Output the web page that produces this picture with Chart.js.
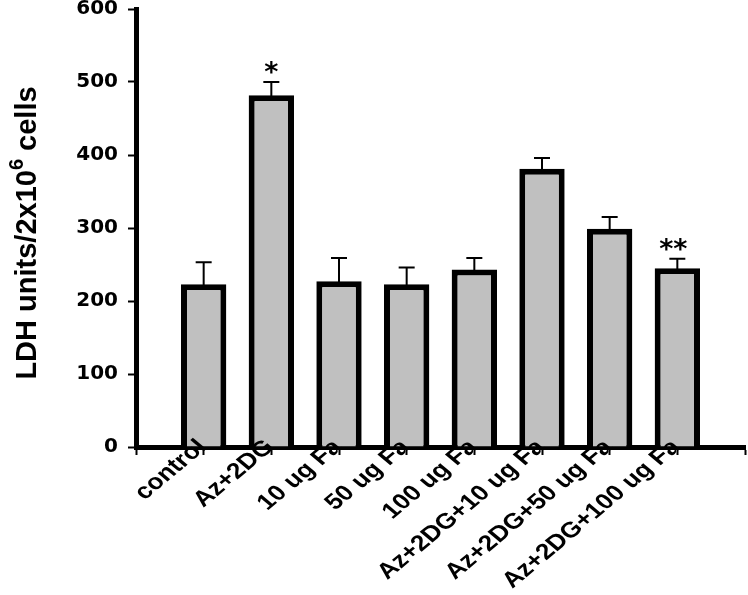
<!DOCTYPE html>
<html>
<head>
<meta charset="utf-8">
<script src="https://cdn.jsdelivr.net/npm/chart.js@4.4.1/dist/chart.umd.min.js"></script>
<style>
  html, body { margin: 0; padding: 0; background: #fff; }
</style>
</head>
<body>
<canvas id="ldh-chart" width="748" height="595"></canvas>
<script>
/* global Chart */
(function (root) {
    'use strict';

    // data
    var categories = ['control', 'Az+2DG', '10 ug Fa', '50 ug Fa', '100 ug Fa', 'Az+2DG+10 ug Fa', 'Az+2DG+50 ug Fa', 'Az+2DG+100 ug Fa'];
    var ldhMeans = [223, 482, 227, 223, 243, 381, 299, 245];
    var ldhErrors = [30, 18, 32, 23, 16, 15, 16, 13];
    var sigMarks = ['', '*', '', '', '', '', '', '**'];
    var yMin = 0, yMax = 600, yStep = 100;
    var yTitleParts = ['LDH units/2x10', '6', ' cells'];

    var tickFont = { family: '"DejaVu Sans", sans-serif', size: 20, weight: 'bold' };

    // bars sit on the tick marks, so pad the category list with empty slots
    var labels = [''].concat(categories, ['']);
    var values = [null].concat(ldhMeans, [null]);

    var errorBarsPlugin = {
        id: 'errorBars',
        afterDatasetsDraw: function (chart) {
            var ctx = chart.ctx;
            var yScale = chart.scales.y;
            var meta = chart.getDatasetMeta(0);
            ctx.save();
            ctx.strokeStyle = '#000';
            ctx.lineWidth = 2;
            categories.forEach(function (c, i) {
                var bar = meta.data[i + 1];
                if (!bar) { return; }
                var top = yScale.getPixelForValue(ldhMeans[i] + ldhErrors[i]);
                ctx.beginPath();
                ctx.moveTo(bar.x, bar.y + 3);
                ctx.lineTo(bar.x, top);
                ctx.moveTo(bar.x - 8, top);
                ctx.lineTo(bar.x + 8, top);
                ctx.stroke();
                if (sigMarks[i]) {
                    ctx.fillStyle = '#000';
                    ctx.font = 'bold 27px "DejaVu Sans", sans-serif';
                    ctx.textAlign = 'center';
                    ctx.textBaseline = 'alphabetic';
                    ctx.fillText(sigMarks[i], bar.x - (sigMarks[i].length > 1 ? 4 : 0), top - 1);
                }
            });
            ctx.restore();
        }
    };

    // rotated category labels, drawn on top so they can overlap the axis like the original
    // (the source image is a bit stretched sideways, hence the x scale)
    var categoryLabelsPlugin = {
        id: 'categoryLabels',
        afterDraw: function (chart) {
            var ctx = chart.ctx;
            var xScale = chart.scales.x;
            ctx.save();
            ctx.fillStyle = '#000';
            ctx.font = 'bold 22px "Liberation Sans", Arial, sans-serif';
            ctx.textAlign = 'right';
            ctx.textBaseline = 'alphabetic';
            chart.data.labels.forEach(function (lab, i) {
                if (!lab) { return; }
                var x = xScale.getPixelForTick(i);
                ctx.save();
                ctx.translate(x + 4, xScale.top + 1);
                ctx.scale(1.2, 1);
                ctx.rotate(-Math.PI / 4);
                ctx.fillText(lab, 0, 0);
                ctx.restore();
            });
            ctx.restore();
        }
    };

    var yTitlePlugin = {
        id: 'yTitle',
        afterDraw: function (chart) {
            var ctx = chart.ctx;
            var big = 'bold 29px "Liberation Sans", Arial, sans-serif';
            var small = 'bold 20px "Liberation Sans", Arial, sans-serif';
            ctx.save();
            ctx.font = big;
            var w0 = ctx.measureText(yTitleParts[0]).width;
            var w2 = ctx.measureText(yTitleParts[2]).width;
            ctx.font = small;
            var w1 = ctx.measureText(yTitleParts[1]).width;
            var total = w0 + w1 + w2;
            ctx.translate(36, 233);
            ctx.rotate(-Math.PI / 2);
            ctx.fillStyle = '#000';
            ctx.textAlign = 'left';
            ctx.textBaseline = 'alphabetic';
            var x = -total / 2;
            ctx.font = big;
            ctx.fillText(yTitleParts[0], x, 0);
            x += w0;
            ctx.font = small;
            ctx.fillText(yTitleParts[1], x, -13);
            x += w1;
            ctx.font = big;
            ctx.fillText(yTitleParts[2], x, 0);
            ctx.restore();
        }
    };

    function initLdhChart() {
        var ctx = document.getElementById('ldh-chart');
        if (!ctx || typeof Chart === 'undefined') { return null; }
        return new Chart(ctx, {
            type: 'bar',
            data: {
                labels: labels,
                datasets: [{
                    data: values,
                    backgroundColor: '#c0c0c0',
                    borderColor: '#000',
                    borderWidth: 6,
                    categoryPercentage: 1,
                    barPercentage: 0.67
                }]
            },
            options: {
                responsive: false,
                animation: false,
                layout: { padding: { top: 9, right: 3, left: 0, bottom: 0 } },
                plugins: { legend: { display: false }, tooltip: { enabled: false } },
                scales: {
                    x: {
                        type: 'category',
                        offset: false,
                        z: 1,
                        grid: { offset: false, drawOnChartArea: false, drawTicks: true, tickLength: 8, tickWidth: 2, tickColor: '#000' },
                        border: { display: true, color: '#000', width: 5 },
                        ticks: { display: false, autoSkip: false },
                        afterFit: function (scale) {
                            scale.height = 148;
                            scale.paddingLeft = 0;
                            scale.paddingRight = 0;
                        }
                    },
                    y: {
                        min: yMin,
                        max: yMax,
                        grid: { drawOnChartArea: false, drawTicks: true, tickLength: 8, tickWidth: 2, tickColor: '#000' },
                        border: { display: true, color: '#000', width: 5 },
                        ticks: { stepSize: yStep, color: '#000', font: tickFont, padding: 10 },
                        afterFit: function (scale) {
                            scale.width = 136;
                            scale.paddingTop = 0;
                            scale.paddingBottom = 0;
                        }
                    }
                }
            },
            plugins: [errorBarsPlugin, categoryLabelsPlugin, yTitlePlugin]
        });
    }

    root.ldhChart = initLdhChart();
})(window);
</script>
</body>
</html>
